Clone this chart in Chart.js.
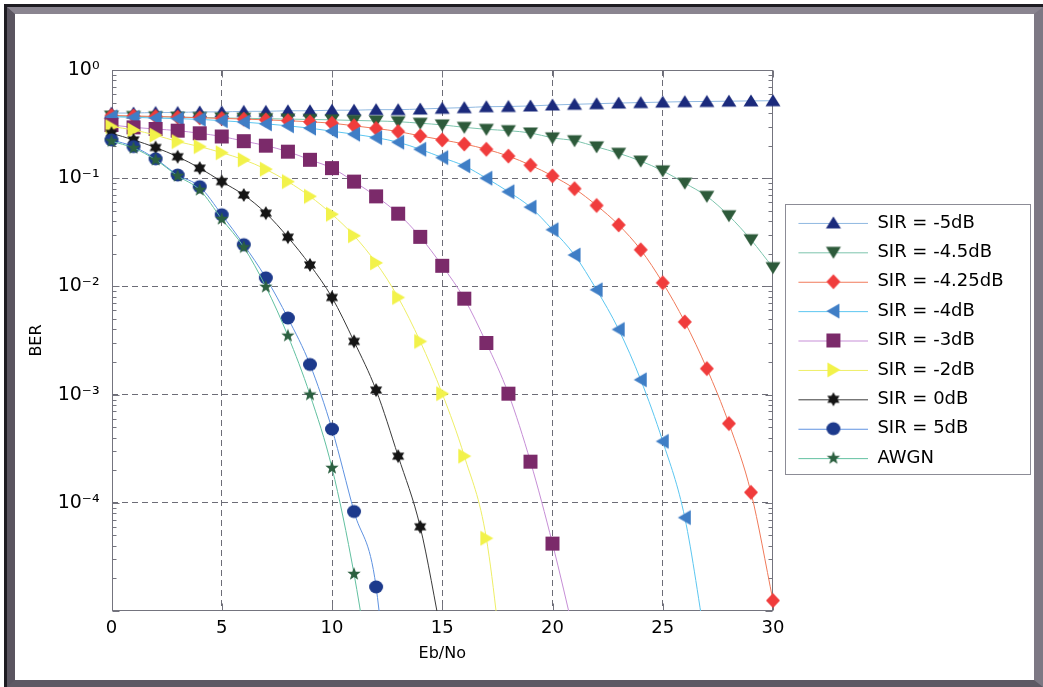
<!DOCTYPE html>
<html lang="en">
<head>
<meta charset="UTF-8">
<title>BER vs Eb/No</title>
<script src="https://cdn.jsdelivr.net/npm/chart.js"></script>
<style>
  html, body { margin: 0; padding: 0; background: #fff; }
  #wrap { position: relative; width: 1043px; height: 687px; overflow: hidden; background: #fff; }
  #frameOuter { position: absolute; left: 4px; top: 4px; width: 1039px; height: 683px; box-sizing: border-box; border: 3px solid #1e1c22; }
  #frameInner { position: absolute; left: 7px; top: 7px; width: 1036px; height: 680px; box-sizing: border-box;
                border-style: solid; border-width: 7px 9px 7px 8px; border-color: #8a8590 #7d7884 #5e5964 #5a5560; }
  canvas { position: absolute; left: 0; top: 0; }
</style>
</head>
<body>
<div id="wrap">
  <div id="frameOuter"></div>
  <div id="frameInner"></div>
  <canvas id="ber" width="1043" height="687"></canvas>
</div>

<script>
// ---------------- data ----------------
const ebNo = [0,1,2,3,4,5,6,7,8,9,10,11,12,13,14,15,16,17,18,19,20,21,22,23,24,25,26,27,28,29,30];

const seriesNames = ['SIR = -5dB', 'SIR = -4.5dB', 'SIR = -4.25dB', 'SIR = -4dB', 'SIR = -3dB',
                     'SIR = -2dB', 'SIR = 0dB', 'SIR = 5dB', 'AWGN'];

const berSirM5   = [0.40,0.40,0.405,0.405,0.41,0.41,0.415,0.415,0.42,0.42,0.425,0.425,0.43,0.43,0.436,0.443,0.449,0.458,0.46,0.465,0.475,0.482,0.488,0.495,0.50,0.505,0.51,0.512,0.515,0.518,0.52];
const berSirM45  = [0.375,0.372,0.37,0.367,0.364,0.361,0.358,0.355,0.352,0.349,0.346,0.342,0.338,0.333,0.322,0.311,0.295,0.283,0.275,0.262,0.236,0.222,0.195,0.170,0.144,0.117,0.090,0.068,0.045,0.027,0.0149];
const berSirM425 = [0.38,0.376,0.372,0.367,0.362,0.357,0.352,0.346,0.34,0.332,0.322,0.305,0.288,0.27,0.246,0.226,0.207,0.185,0.16,0.132,0.105,0.080,0.056,0.037,0.0218,0.0108,0.0047,0.00174,0.00054,0.000125,0.0000125];
const berSirM4   = [0.37,0.365,0.36,0.355,0.35,0.34,0.33,0.318,0.305,0.29,0.272,0.255,0.237,0.215,0.185,0.155,0.13,0.100,0.075,0.054,0.0334,0.0195,0.0093,0.0040,0.00137,0.00037,0.000073,0.0000043];
const berSirM3   = [0.31,0.295,0.285,0.275,0.26,0.243,0.22,0.2,0.176,0.148,0.124,0.093,0.068,0.047,0.0287,0.0155,0.0077,0.0030,0.00102,0.00024,0.000042,0.0000059];
const berSirM2   = [0.30,0.279,0.25,0.218,0.196,0.172,0.148,0.121,0.093,0.068,0.0464,0.0294,0.0165,0.0079,0.0031,0.00102,0.00027,0.000047,0.000001];
const berSir0    = [0.26,0.226,0.192,0.158,0.124,0.093,0.070,0.0475,0.0285,0.0158,0.0079,0.0031,0.0011,0.00027,0.00006,0.0000055];
const berSir5    = [0.226,0.196,0.151,0.107,0.0835,0.046,0.0243,0.012,0.0051,0.0019,0.00048,0.000083,0.0000167,0.0000001];
const berAwgn    = [0.22,0.19,0.148,0.105,0.078,0.042,0.023,0.0099,0.0035,0.001,0.00021,0.000022,0.0000012];

const xTicks = [0,5,10,15,20,25,30];
const yTicks = [1e-5,1e-4,1e-3,1e-2,1e-1,1];
const yTickLabels = ['', '10\u207B\u2074', '10\u207B\u00B3', '10\u207B\u00B2', '10\u207B\u00B9', '10\u2070'];

// ---------------- styles ----------------
const FONT = "'DejaVu Sans', sans-serif";
const allSeries = [berSirM5, berSirM45, berSirM425, berSirM4, berSirM3, berSirM2, berSir0, berSir5, berAwgn];
const markerShape = ['up', 'down', 'diamond', 'left', 'square', 'right', 'hexagram', 'circle', 'pentagram'];
const markerColor = ['#1b2a7c', '#2d5a3a', '#f03c3c', '#3f7ec6', '#7b2a6a', '#f2f24a', '#151515', '#1d3a8c', '#2c6040'];
const lineColor   = ['#8fb8e0', '#7cc4ac', '#f07a5a', '#5cc6f0', '#c68ed6', '#eeee66', '#3a3a3a', '#5f92e0', '#62c0a0'];

// draw one marker shape centred at (x, y)
function drawShape(ctx, shape, x, y, color) {
    ctx.fillStyle = color;
    ctx.beginPath();
    if (shape === 'up') {
        ctx.moveTo(x, y - 6.5); ctx.lineTo(x + 7.5, y + 5.5); ctx.lineTo(x - 7.5, y + 5.5);
    } else if (shape === 'down') {
        ctx.moveTo(x, y + 6.5); ctx.lineTo(x + 7.5, y - 5.5); ctx.lineTo(x - 7.5, y - 5.5);
    } else if (shape === 'left') {
        ctx.moveTo(x - 7, y); ctx.lineTo(x + 6, y - 7.5); ctx.lineTo(x + 6, y + 7.5);
    } else if (shape === 'right') {
        ctx.moveTo(x + 7, y); ctx.lineTo(x - 6, y - 7.5); ctx.lineTo(x - 6, y + 7.5);
    } else if (shape === 'diamond') {
        ctx.moveTo(x, y - 7.5); ctx.lineTo(x + 7, y); ctx.lineTo(x, y + 7.5); ctx.lineTo(x - 7, y);
    } else if (shape === 'square') {
        ctx.rect(x - 7, y - 7, 14, 14);
    } else if (shape === 'circle') {
        ctx.ellipse(x, y, 7, 6.5, 0, 0, Math.PI * 2);
    } else if (shape === 'hexagram') {
        // two triangles, same winding so the middle stays filled
        ctx.moveTo(x, y - 7); ctx.lineTo(x + 6.06, y + 3.5); ctx.lineTo(x - 6.06, y + 3.5); ctx.closePath();
        ctx.moveTo(x, y + 7); ctx.lineTo(x - 6.06, y - 3.5); ctx.lineTo(x + 6.06, y - 3.5);
    } else if (shape === 'pentagram') {
        for (let k = 0; k < 10; k++) {
            const r = k % 2 === 0 ? 7 : 2.9;
            const a = -Math.PI / 2 + k * Math.PI / 5;
            const px = x + r * Math.cos(a), py = y + r * Math.sin(a);
            if (k === 0) ctx.moveTo(px, py); else ctx.lineTo(px, py);
        }
    }
    ctx.closePath();
    ctx.fill('nonzero');
}

function markerImage(i) {
    const c = document.createElement('canvas');
    c.width = 18; c.height = 18;
    drawShape(c.getContext('2d'), markerShape[i], 9, 9, markerColor[i]);
    return c;
}

// legend sample: line with the marker in its middle
const LEG_BOX = 84;
function legendImage(i) {
    const c = document.createElement('canvas');
    c.width = LEG_BOX; c.height = 18;
    const g = c.getContext('2d');
    g.strokeStyle = lineColor[i];
    g.lineWidth = 1;
    g.beginPath(); g.moveTo(14, 9.5); g.lineTo(84, 9.5); g.stroke();
    drawShape(g, markerShape[i], 49, 9, markerColor[i]);
    return c;
}

const legendImgs = allSeries.map((s, i) => legendImage(i));

// work out right padding so that the plot area ends where it does in the figure
const LEG_FONT = 18, LEG_PAD = 11.4;
const mctx = document.createElement('canvas').getContext('2d');
mctx.font = LEG_FONT + 'px ' + FONT;
const maxText = Math.max(...seriesNames.map(t => mctx.measureText(t).width));
const legendWidth = LEG_PAD + LEG_BOX + LEG_FONT / 2 + maxText + 10;
const padRight = 1043 - 773 - legendWidth;

const datasets = allSeries.map((vals, i) => ({
    label: seriesNames[i],
    data: vals.map((v, k) => ({x: ebNo[k], y: v})),
    borderColor: lineColor[i],
    backgroundColor: lineColor[i],
    borderWidth: 1,
    pointStyle: markerImage(i),
    pointRadius: 7,
    pointHoverRadius: 7,
    cubicInterpolationMode: 'monotone',
    fill: false,
    order: allSeries.length - i,
    clip: {left: 14, top: 14, right: 14, bottom: 0}
}));

// ---------------- plugins ----------------
const axesBox = {
    id: 'axesBox',
    beforeDatasetsDraw(chart) {
        const {ctx, chartArea: a, scales: {x, y}} = chart;
        const L = Math.round(a.left) + 0.5, R = Math.round(a.right) - 0.5;
        const T = Math.round(a.top) + 0.5, B = Math.round(a.bottom) - 0.5;
        ctx.save();
        ctx.strokeStyle = '#74747e';
        ctx.lineWidth = 1;
        ctx.beginPath();
        // minor ticks on the log axis
        for (let e = -5; e < 0; e++) {
            for (let k = 2; k <= 9; k++) {
                const py = Math.round(y.getPixelForValue(k * Math.pow(10, e))) + 0.5;
                ctx.moveTo(L, py); ctx.lineTo(L + 4, py);
                ctx.moveTo(R, py); ctx.lineTo(R - 4, py);
            }
        }
        yTicks.forEach(v => {
            const py = Math.round(y.getPixelForValue(v)) + 0.5;
            ctx.moveTo(L, py); ctx.lineTo(L + 7, py);
            ctx.moveTo(R, py); ctx.lineTo(R - 7, py);
        });
        xTicks.forEach(v => {
            const px = Math.round(x.getPixelForValue(v)) + 0.5;
            ctx.moveTo(px, B); ctx.lineTo(px, B - 7);
            ctx.moveTo(px, T); ctx.lineTo(px, T + 7);
        });
        ctx.stroke();
        ctx.strokeRect(L, T, R - L, B - T);
        ctx.restore();
    },
    afterDraw(chart) {
        const lg = chart.legend;
        const hb = lg.legendHitBoxes;
        if (!hb || !hb.length) return;
        const ctx = chart.ctx;
        const firstMid = hb[0].top + LEG_FONT / 2;
        const lastMid = hb[hb.length - 1].top + LEG_FONT / 2;
        ctx.save();
        ctx.strokeStyle = '#8c8c96';
        ctx.lineWidth = 1;
        ctx.strokeRect(785.5, Math.round(firstMid - 19) + 0.5, 245, Math.round(lastMid - firstMid + 35));
        ctx.restore();
    }
};

const gridColor = edgeVals => (c => edgeVals.includes(c.tick && c.tick.value) ? 'rgba(0,0,0,0)' : '#6c6c76');

new Chart(document.getElementById('ber'), {
    type: 'line',
    data: { datasets },
    options: {
        responsive: false,
        animation: false,
        devicePixelRatio: 1,
        layout: { padding: { top: 70, left: 27, bottom: 24, right: padRight } },
        plugins: {
            tooltip: { enabled: false },
            legend: {
                position: 'right',
                align: 'center',
                fullSize: false,
                labels: {
                    usePointStyle: true,
                    pointStyleWidth: LEG_BOX,
                    padding: LEG_PAD,
                    color: '#000',
                    font: { family: FONT, size: LEG_FONT },
                    generateLabels: chart => chart.data.datasets.map((d, i) => ({
                        text: d.label,
                        pointStyle: legendImgs[i],
                        fillStyle: 'rgba(0,0,0,0)',
                        strokeStyle: 'rgba(0,0,0,0)',
                        lineWidth: 0,
                        fontColor: '#000',
                        hidden: false,
                        datasetIndex: i
                    }))
                }
            }
        },
        scales: {
            x: {
                type: 'linear',
                min: 0, max: 30,
                afterBuildTicks: s => { s.ticks = xTicks.map(v => ({value: v})); },
                afterFit: s => { s.height = 52; },
                ticks: { color: '#000', font: { family: FONT, size: 18 }, padding: 7, maxRotation: 0 },
                grid: { drawTicks: false, color: gridColor([0, 30]), lineWidth: 1, borderDash: [6, 4] },
                border: { display: false, dash: [6, 4] },
                title: { display: true, text: 'Eb/No', color: '#000', font: { family: FONT, size: 16 }, padding: 0 }
            },
            y: {
                type: 'logarithmic',
                min: 1e-5, max: 1,
                afterBuildTicks: s => { s.ticks = yTicks.map(v => ({value: v})); },
                afterFit: s => { s.width = 84.5; },
                ticks: {
                    color: '#000',
                    font: { family: FONT, size: 19 },
                    padding: 12,
                    autoSkip: false,
                    callback: v => yTickLabels[yTicks.findIndex(t => Math.abs(Math.log10(t) - Math.log10(v)) < 1e-6)] || ''
                },
                grid: { drawTicks: false, color: gridColor([1, 1e-5]), lineWidth: 1, borderDash: [6, 4] },
                border: { display: false, dash: [6, 4] },
                title: { display: true, text: 'BER', color: '#000', font: { family: FONT, size: 16 }, padding: 0 }
            }
        }
    },
    plugins: [axesBox]
});
</script>
</body>
</html>
